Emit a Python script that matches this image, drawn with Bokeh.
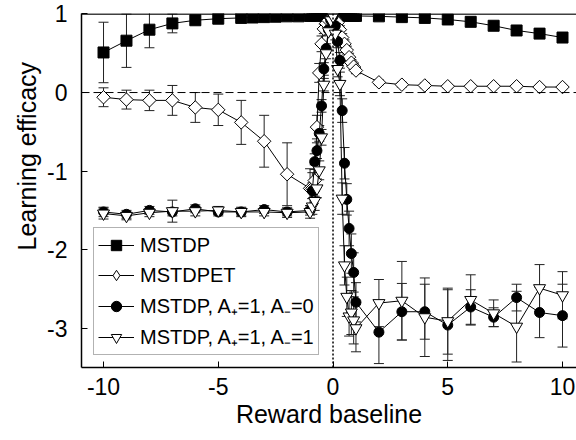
from bokeh.plotting import figure
from bokeh.models import (Range1d, Span, Whisker, TeeHead, ColumnDataSource, Legend,
                          LegendItem, FixedTicker, Title)
from bokeh.embed import file_html
from bokeh.resources import INLINE
import numpy as np

# ---------------- data ----------------
mstdp_x = [-10, -9, -8, -7, -6, -5, -4, -3.5, -3, -2.5, -2, -1.5, -1,
           -0.9, -0.8, -0.7, -0.6, -0.5, -0.4, -0.3, -0.2, -0.1, 0,
           0.1, 0.2, 0.3, 0.4, 0.5, 0.6, 0.7, 0.8, 0.9,
           1, 2, 3, 4, 5, 6, 7, 8, 9, 10]
mstdp_y = [0.51, 0.66, 0.80, 0.88, 0.92, 0.94, 0.95, 0.955, 0.96, 0.965, 0.97, 0.97, 0.975,
           0.98, 0.98, 0.98, 0.98, 0.98, 0.98, 0.985, 0.985, 0.99, 0.99,
           0.985, 0.985, 0.985, 0.98, 0.98, 0.98, 0.98, 0.98, 0.975,
           0.975, 0.97, 0.96, 0.95, 0.93, 0.90, 0.85, 0.79, 0.75, 0.70]
mstdp_err = [0.385, 0.34, 0.23, 0.12, 0.05, 0.03, 0.02, 0.02, 0.02, 0.02, 0.02, 0.02, 0.02,
             0.02, 0.02, 0.02, 0.02, 0.02, 0.02, 0.02, 0.02, 0.02, 0.01,
             0.02, 0.02, 0.02, 0.02, 0.02, 0.02, 0.02, 0.02, 0.02,
             0.02, 0.02, 0.02, 0.02, 0.03, 0.03, 0.04, 0.04, 0.04, 0.04]

x_pts = [-10, -9, -8, -7, -6, -5, -4, -3, -2, -1,
         -0.9, -0.8, -0.7, -0.6, -0.5, -0.4, -0.3, -0.2, -0.1,
         0,
         0.1, 0.2, 0.3, 0.4, 0.5, 0.6, 0.7, 0.8, 0.9,
         1, 2, 3, 4, 5, 6, 7, 8, 9, 10]

mstdpet_y = [-0.06, -0.09, -0.10, -0.10, -0.19, -0.22, -0.38, -0.62, -1.04, -1.22,
             -1.22, -1.12, -0.44, 0.25, 0.62, 0.81, 0.88, 0.92, 0.95,
             0.97,
             0.93, 0.89, 0.80, 0.70, 0.62, 0.54, 0.45, 0.38, 0.33,
             0.28, 0.13, 0.10, 0.09, 0.08, 0.08, 0.08, 0.08, 0.07, 0.07]
mstdpet_err = [0.12, 0.12, 0.13, 0.19, 0.19, 0.20, 0.28, 0.33, 0.40, 0.25,
               0.20, 0.20, 0.15, 0.12, 0.10, 0.06, 0.05, 0.04, 0.03,
               0.02,
               0.03, 0.04, 0.05, 0.05, 0.05, 0.05, 0.05, 0.04, 0.04,
               0.04, 0.03, 0.03, 0.03, 0.02, 0.02, 0.02, 0.02, 0.02, 0.02]

a10_y = [-1.52, -1.55, -1.50, -1.52, -1.48, -1.52, -1.52, -1.49, -1.52, -1.50,
         -1.25, -0.88, -0.74, -0.52, -0.17, 0.30, 0.56, 0.80, 0.92,
         0.97,
         0.85, 0.65, 0.41, -0.23, -0.90, -1.36, -1.73, -2.05, -2.29,
         -2.67, -3.05, -2.79, -2.79, -2.96, -2.73, -2.86, -2.61, -2.80, -2.84]
a10_err = [0.06, 0.05, 0.05, 0.05, 0.05, 0.05, 0.05, 0.05, 0.05, 0.06,
           0.10, 0.10, 0.10, 0.10, 0.08, 0.08, 0.06, 0.05, 0.03,
           0.02,
           0.05, 0.08, 0.10, 0.15, 0.20, 0.20, 0.22, 0.25, 0.25,
           0.25, 0.40, 0.36, 0.35, 0.45, 0.22, 0.12, 0.17, 0.32, 0.40]

a11_y = [-1.54, -1.57, -1.53, -1.51, -1.51, -1.50, -1.52, -1.52, -1.53, -1.52,
         -1.45, -1.38, -1.22, -0.99, -0.57, 0.10, 0.50, 0.78, 0.92,
         0.97,
         0.75, 0.30, 0.11, -1.35, -2.20, -2.60, -2.85, -2.80, -2.90,
         -3.00, -2.68, -2.65, -2.86, -2.91, -2.64, -2.81, -2.98, -2.49, -2.58]
a11_err = [0.07, 0.05, 0.05, 0.14, 0.06, 0.05, 0.06, 0.05, 0.06, 0.08,
           0.10, 0.12, 0.12, 0.12, 0.10, 0.08, 0.07, 0.05, 0.03,
           0.02,
           0.08, 0.10, 0.15, 0.20, 0.25, 0.25, 0.25, 0.28, 0.30,
           0.30, 0.30, 0.50, 0.50, 0.42, 0.32, 0.17, 0.45, 0.30, 0.30]

labels = ["MSTDP", "MSTDPET", "MSTDP, A\u208a=1, A\u208b=0", "MSTDP, A\u208a=1, A\u208b=1"]
x_ticks = [-10, -5, 0, 5, 10]
y_ticks = [1, 0, -1, -2, -3]
x_title = "Reward baseline"
y_title = "Learning efficacy"

FONT = "Liberation Sans"

p = figure(width=576, height=440, output_backend="svg", toolbar_location=None,
           x_range=Range1d(-10.96, 10.61), y_range=Range1d(-3.5, 1.006),
           min_border_left=81, min_border_right=0, min_border_top=13, min_border_bottom=73)
p.background_fill_color = "white"
p.border_fill_color = "white"
p.outline_line_color = None
p.xgrid.visible = False
p.ygrid.visible = False
# off-screen range used only by the legend-symbol renderers
p.extra_y_ranges = {"legend_only": Range1d(start=1000, end=1001)}

for ax in (p.xaxis[0], p.yaxis[0]):
    ax.axis_line_width = 1.5
    ax.axis_line_color = "black"
    ax.major_tick_in = 6
    ax.major_tick_out = 0
    ax.major_tick_line_width = 1
    ax.minor_tick_line_color = None
    ax.major_label_text_font = FONT
    ax.major_label_text_font_size = "23px"
    ax.major_label_text_color = "black"
    ax.axis_label_text_font = FONT
    ax.axis_label_text_font_size = "25px"
    ax.axis_label_text_font_style = "normal"
    ax.axis_label_text_color = "black"

p.xaxis.ticker = FixedTicker(ticks=x_ticks)
p.yaxis.ticker = FixedTicker(ticks=y_ticks)
p.xaxis.major_label_overrides = {t: str(t) for t in x_ticks}
p.yaxis.major_label_overrides = {t: str(t) for t in y_ticks}
p.xaxis.major_label_standoff = 10
p.yaxis.major_label_standoff = 14
p.xaxis.axis_label = x_title
p.xaxis.axis_label_standoff = 2

# y title as a side title so that it can sit above centre, as in the reference
p.add_layout(Title(text=y_title, align="left", offset=117, text_font=FONT,
                   text_font_size="25px", text_font_style="normal", text_color="black",
                   standoff=7), "left")

# reference lines
p.add_layout(Span(location=0, dimension="width", line_color="black", line_dash="8 4", line_width=1))
p.add_layout(Span(location=0, dimension="height", line_color="black", line_dash="2 2", line_width=1.5))
p.add_layout(Span(location=1.0, dimension="width", line_color="black", line_width=1.5))

series = [
    (mstdp_x, mstdp_y, mstdp_err, dict(marker="square", size=11, fill_color="black", angle=0)),
    (x_pts, mstdpet_y, mstdpet_err, dict(marker="square", size=9.5, fill_color="white", angle=np.pi / 4)),
    (x_pts, a10_y, a10_err, dict(marker="circle", size=10, fill_color="black", angle=0)),
    (x_pts, a11_y, a11_err, dict(marker="inverted_triangle", size=12, fill_color="white", angle=0)),
]
legend_markers = ["square", "diamond", "circle", "inverted_triangle"]

items = []
sources = []
for xs, ys, es, st in series:
    src = ColumnDataSource(dict(x=xs, y=ys,
                                lo=[a - b for a, b in zip(ys, es)],
                                hi=[a + b for a, b in zip(ys, es)]))
    sources.append(src)
    p.add_layout(Whisker(source=src, base="x", lower="lo", upper="hi",
                         line_color="#222222", line_width=1,
                         upper_head=TeeHead(size=10, line_color="#222222", line_width=1),
                         lower_head=TeeHead(size=10, line_color="#222222", line_width=1)))

for (xs, ys, es, st), src, lab, lm in zip(series, sources, labels, legend_markers):
    ln = p.line("x", "y", source=src, line_color="black", line_width=1)
    p.scatter("x", "y", source=src, marker=st["marker"], size=st["size"],
              angle=st["angle"], fill_color=st["fill_color"], line_color="black",
              line_width=1)
    # legend symbol (upright marker); its data map to the off-screen range
    dummy = p.scatter("x", "y", source=src, y_range_name="legend_only",
                      marker=lm, size=10, fill_color=st["fill_color"],
                      line_color="black", line_width=1)
    items.append(LegendItem(label=lab, renderers=[ln, dummy]))

legend = Legend(items=items, location="bottom_left", margin=12, padding=4, spacing=4,
                label_height=26, glyph_height=26, glyph_width=36, label_standoff=6,
                label_text_font=FONT, label_text_font_size="20px", label_text_color="black",
                border_line_color="#666666", border_line_width=1,
                background_fill_color="white", background_fill_alpha=1)
p.add_layout(legend)

open("out.html", "w").write(file_html(p, INLINE))
